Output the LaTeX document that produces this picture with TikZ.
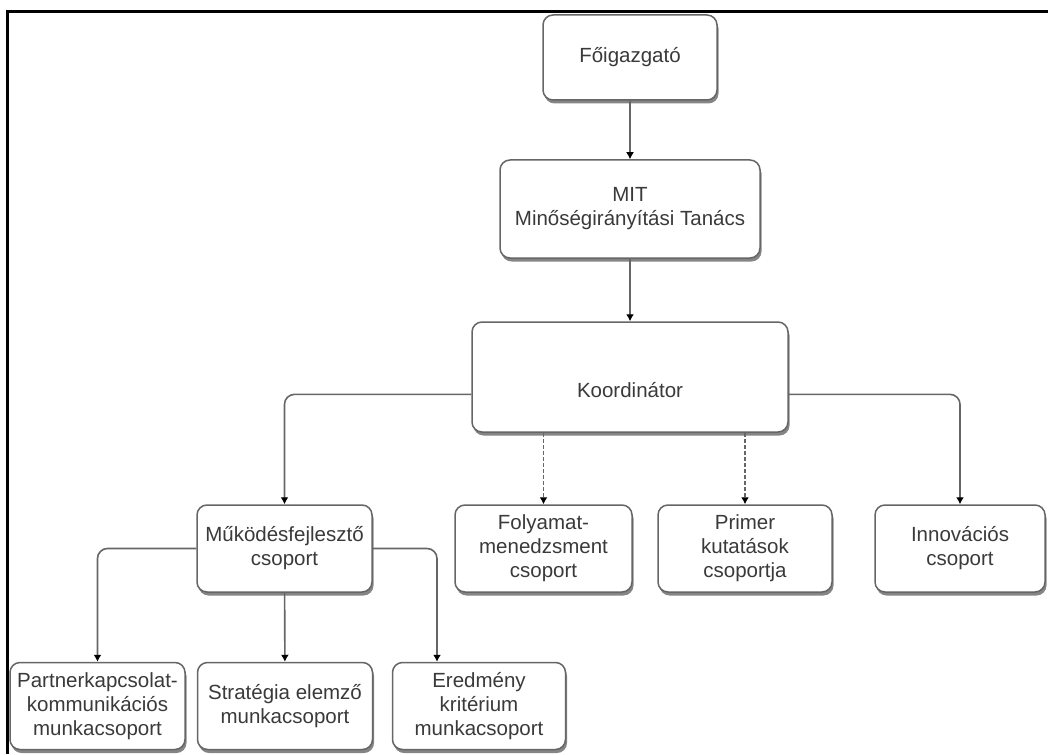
\documentclass[tikz,border=0pt]{standalone}
\usepackage{fontspec}
\setmainfont{Liberation Sans}
\usepackage{tikz}
\usetikzlibrary{positioning,shadows,arrows.meta}
\definecolor{boxline}{HTML}{666666}
\definecolor{boxtext}{HTML}{3A3A3A}
\definecolor{boxshade}{HTML}{858585}

\begin{document}
\begin{tikzpicture}[x=1pt,y=-1pt,
unit/.style = {rectangle, draw=boxline, line width=1.5pt, rounded corners=10pt, fill=white,
               text=boxtext, align=center, minimum height=87pt, inner sep=2pt,
               font=\fontsize{20.5}{24}\selectfont,
               drop shadow={shadow xshift=1.5pt, shadow yshift=-3.5pt, fill=boxshade, opacity=1}},
line/.style ={draw=boxline, line width=1.6pt, rounded corners=10pt, -{Latex[black,length=7pt,width=8pt]}},
dline/.style ={line, dash pattern=on 4pt off 2pt}]

\useasboundingbox (0,0) rectangle (1048,754);
% frame
\draw[line width=3pt] (7,754) -- (7,12) -- (1048,12);

% top of the chart
\node [unit, minimum width=174pt, minimum height=85pt] (boss) at (630,57.5) {Főigazgató};
\node [unit, minimum width=260pt, minimum height=98pt] (mit) at (630,209) {MIT\\Minőségirányítási Tanács};
\node [unit, minimum width=316pt, minimum height=110pt, inner sep=0pt,
       text height=75pt, text depth=35pt] (coord) at (630,377) {Koordinátor};

% groups
\node [unit, minimum width=175pt] (mfcs) at (284.5,548.5) {Működésfejlesztő\\csoport};
\node [unit, minimum width=177pt] (folyamat) at (543.5,548.5) {Folyamat-\\menedzsment\\csoport};
\node [unit, minimum width=174pt] (primer) at (745,548.5) {Primer\\kutatások\\csoportja};
\node [unit, minimum width=170pt] (innov) at (960,548.5) {Innovációs\\csoport};

% work groups
\node [unit, minimum width=175pt] (partner) at (97.5,706) {Partnerkapcsolat-\\kommunikációs\\munkacsoport};
\node [unit, minimum width=175pt] (strat) at (285,706) {Stratégia elemző\\munkacsoport};
\node [unit, minimum width=173pt] (ered) at (479,706) {Eredmény\\kritérium\\munkacsoport};
\coordinate (ered in) at ([xshift=-42pt]ered.north);

\begin{scope}[every path/.style=line]
\path (boss) -- (mit);
\path (mit) -- (coord);
\path (coord.mid west) -| (mfcs.north);
\path (coord.mid east) -| (innov.north);
\path (mfcs.west) -| (partner.north);
\path (mfcs) -- (strat);
\path (mfcs.east) -| (ered in);
\end{scope}

\path[dline] (coord.south -| folyamat.north) -- (folyamat.north);
\path[dline] (coord.south -| primer.north) -- (primer.north);
\end{tikzpicture}
\end{document}
